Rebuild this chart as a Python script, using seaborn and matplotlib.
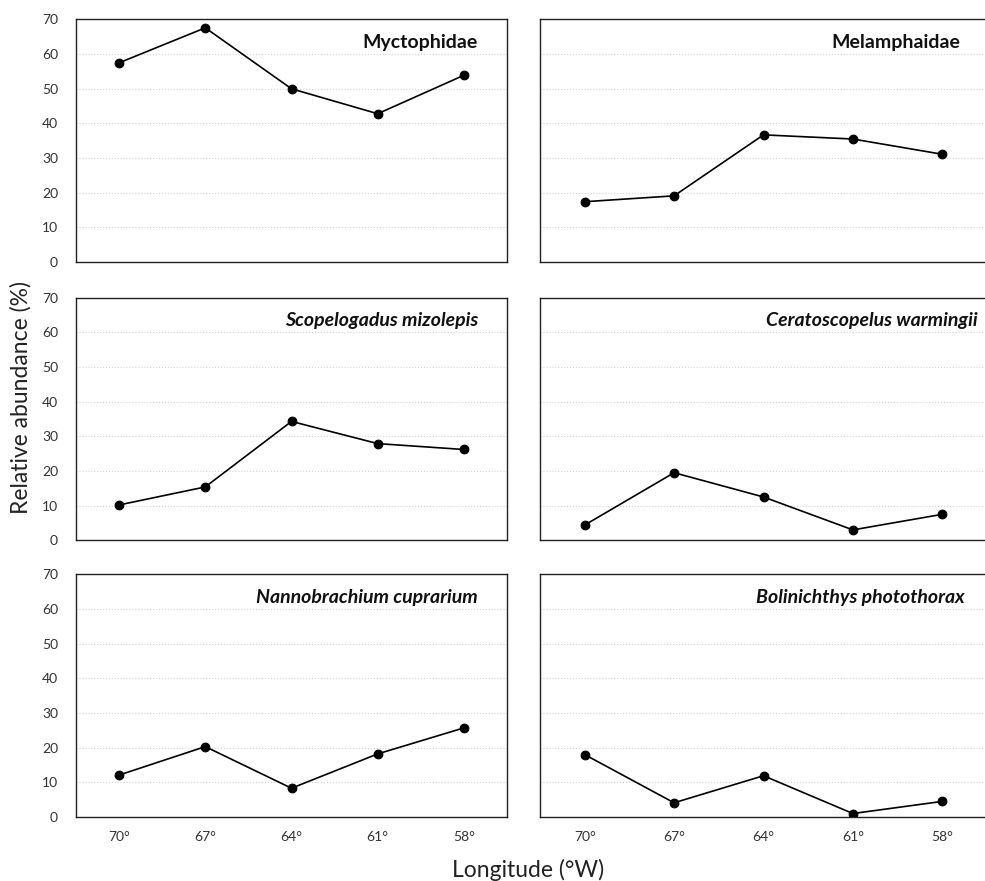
import matplotlib
matplotlib.use('Agg')
import matplotlib.pyplot as plt
import seaborn as sns
import pandas as pd

longitude = ['70°', '67°', '64°', '61°', '58°']
taxa = ['Myctophidae', 'Melamphaidae', 'Scopelogadus mizolepis',
        'Ceratoscopelus warmingii', 'Nannobrachium cuprarium', 'Bolinichthys photothorax']
myctophidae = [57.5, 67.6, 50.0, 42.8, 53.9]
melamphaidae = [17.4, 19.1, 36.7, 35.5, 31.1]
scopelogadus = [10.2, 15.4, 34.3, 27.9, 26.2]
ceratoscopelus = [4.4, 19.5, 12.5, 3.0, 7.5]
nannobrachium = [12.1, 20.3, 8.3, 18.2, 25.7]
bolinichthys = [18.0, 4.1, 11.9, 1.0, 4.5]
values = [myctophidae, melamphaidae, scopelogadus, ceratoscopelus, nannobrachium, bolinichthys]
yticks = [0, 10, 20, 30, 40, 50, 60, 70]

sns.set_style('white')
plt.rcParams['font.family'] = ['Lato', 'DejaVu Sans']

W, H = 985, 881
fig = plt.figure(figsize=(W/100, H/100), dpi=100)

# panel boxes in pixels (left, right, top, bottom)
cols = [(76, 507), (540, 987)]
rows = [(19.5, 262), (297.7, 540.3), (574.3, 817)]
title_x = [0.933, 0.94, 0.933, 0.978, 0.933, 0.951]

for i, name in enumerate(taxa):
    r, c = divmod(i, 2)
    l, rr = cols[c]
    t, b = rows[r]
    ax = fig.add_axes([l/W, 1-b/H, (rr-l)/W, (b-t)/H])
    df = pd.DataFrame({'lon': longitude, 'val': values[i]})
    sns.lineplot(data=df, x='lon', y='val', ax=ax, color='black', lw=1.2,
                 marker='o', markersize=6.3, markeredgecolor='black', sort=False)
    ax.set_xlim(-0.5, 4.5)
    ax.set_ylim(0, 70)
    ax.set_yticks(yticks)
    ax.yaxis.grid(True, color='#d4d4d4', ls=':', lw=0.8)
    ax.set_axisbelow(True)
    for s in ax.spines.values():
        s.set_color('#222222')
        s.set_linewidth(1.0)
    ax.tick_params(length=0, labelsize=10, labelcolor='#333333')
    ax.tick_params(axis='y', pad=13)
    ax.tick_params(axis='x', pad=10)
    ax.set_xlabel('')
    ax.set_ylabel('')
    if r < 2:
        ax.set_xticklabels([])
    if c == 1:
        ax.set_yticklabels([])
    style = 'normal' if i < 2 else 'italic'
    ax.text(title_x[i], 0.905, name, transform=ax.transAxes, ha='right', va='center',
            fontsize=14, fontweight='bold', fontstyle=style, color='#111111')

fig.text(21/W, 1-398/H, 'Relative abundance (%)', rotation=90, ha='center', va='center',
         fontsize=16.5, color='#222222')
fig.text(528/W, 1-870/H, 'Longitude (°W)', ha='center', va='center',
         fontsize=16.5, color='#222222')

plt.savefig('out.png', dpi=100)
